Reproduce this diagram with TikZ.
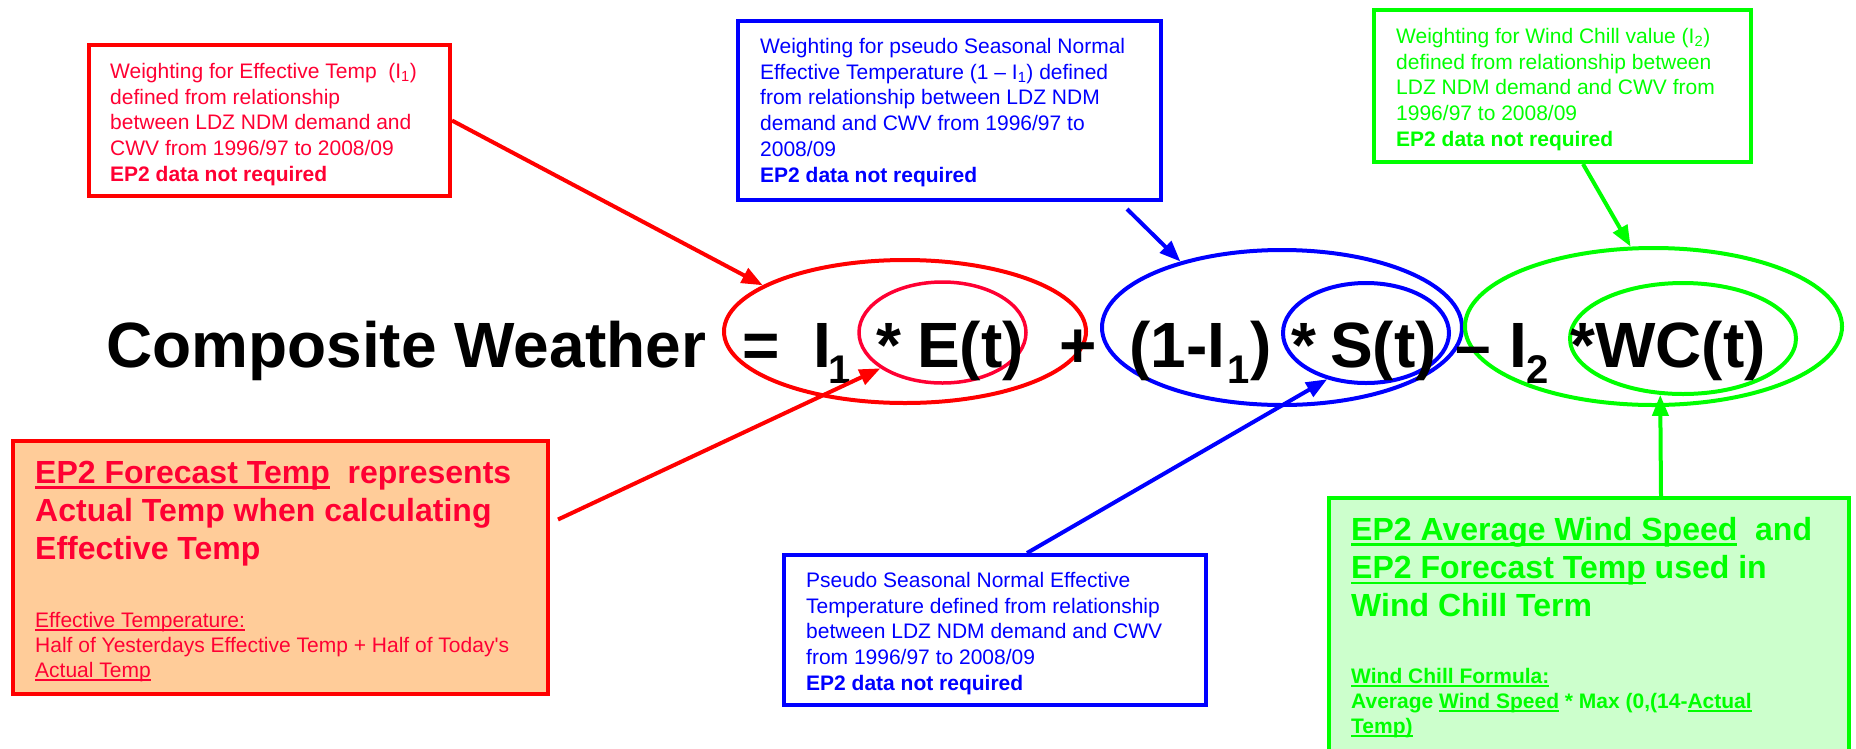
\documentclass[tikz,border=0pt]{standalone}
\usepackage{fontspec}
\setmainfont{Liberation Sans}
\usetikzlibrary{arrows.meta,shapes.geometric}
\definecolor{cRed}{RGB}{255,0,0}
\definecolor{cCrim}{RGB}{255,0,51}
\definecolor{cBlue}{RGB}{0,0,255}
\definecolor{cGreen}{RGB}{0,255,0}
\definecolor{cPeach}{RGB}{255,204,153}
\definecolor{cMint}{RGB}{204,255,204}
\newcommand\myul[1]{\setbox0=\hbox{#1}\rlap{\rule[-0.17em]{\wd0}{0.07em}}\box0\relax}
\newcommand\topst[1]{\rule{0pt}{#1}}
\tikzset{
  box/.style={draw, line width=4pt, rectangle, inner sep=0pt},
  txt/.style={inner sep=0pt, anchor=north west, align=left},
  small/.style={font=\fontsize{21}{25.8}\selectfont},
  smallb/.style={font=\fontsize{21}{25}\selectfont\bfseries},
  big/.style={font=\fontsize{32}{38.3}\selectfont\bfseries},
  eq/.style={inner sep=0pt, anchor=base west, font=\fontsize{64}{64}\selectfont\bfseries},
  eqsub/.style={inner sep=0pt, anchor=base west, font=\fontsize{40}{40}\selectfont\bfseries},
  ring/.style={draw, ellipse, line width=4pt, inner sep=0pt},
  conn/.style={line width=4pt, -{Triangle[length=21pt,width=16pt]}},
  plainline/.style={line width=4pt}
}
\begin{document}
\begin{tikzpicture}[x=1pt,y=-1pt]
\useasboundingbox (0,0) rectangle (1856,748);
\clip (0,0) rectangle (1856,748);
\fill[white] (0,0) rectangle (1856,748);

% boxes
\node[box, draw=cRed, fill=white, minimum width=361pt, minimum height=151pt] (b1) at (269.5,120.5) {};
\node[box, draw=cBlue, fill=white, minimum width=423pt, minimum height=179pt] (b2) at (949.5,110.5) {};
\node[box, draw=cGreen, fill=white, minimum width=377pt, minimum height=152pt] (b3) at (1562.5,86) {};
\node[box, draw=cRed, fill=cPeach, minimum width=535pt, minimum height=253pt] (b4) at (280.5,567.5) {};
\node[box, draw=cBlue, fill=white, minimum width=422pt, minimum height=150pt] (b5) at (995,630) {};
\node[box, draw=cGreen, fill=cMint, minimum width=520pt, minimum height=282pt] (b6) at (1589,639) {};

% box texts
\node[txt, small, text=cCrim] (t1) at (110,58) {\topst{20pt}Weighting for Effective Temp\ \ (I\textsubscript{1})\\ defined from relationship\\ between LDZ NDM demand and\\ CWV from 1996/97 to 2008/09\\ \textbf{EP2 data not required}};
\node[txt, small, text=cBlue] (t2) at (760,33) {\topst{20pt}Weighting for pseudo Seasonal Normal\\ Effective Temperature (1 \textendash{} I\textsubscript{1}) defined\\ from relationship between LDZ NDM\\ demand and CWV from 1996/97 to\\ 2008/09\\ \textbf{EP2 data not required}};
\node[txt, small, text=cGreen] (t3) at (1396,23) {\topst{20pt}Weighting for Wind Chill value (I\textsubscript{2})\\ defined from relationship between\\ LDZ NDM demand and CWV from\\ 1996/97 to 2008/09\\ \textbf{EP2 data not required}};
\node[txt, small, text=cBlue] (t5) at (806,567) {\topst{20pt}Pseudo Seasonal Normal Effective\\ Temperature defined from relationship\\ between LDZ NDM demand and CWV\\ from 1996/97 to 2008/09\\ \textbf{EP2 data not required}};
\node[txt, big, text=cCrim] (t4a) at (35,453) {\topst{30pt}\myul{EP2 Forecast Temp}\ \ represents\\ Actual Temp when calculating\\ Effective Temp};
\node[txt, font=\fontsize{21}{25}\selectfont, text=cCrim] (t4b) at (35,607) {\topst{20pt}\myul{Effective Temperature:}\\ Half of Yesterdays Effective Temp + Half of Today\textquotesingle s\\ \myul{Actual Temp}};
\node[txt, big, text=cGreen] (t6a) at (1351,510) {\topst{30pt}\myul{EP2 Average Wind Speed}\ \ and\\ \myul{EP2 Forecast Temp} used in\\ Wind Chill Term};
\node[txt, smallb, text=cGreen] (t6b) at (1351,663) {\topst{20pt}\myul{Wind Chill Formula:}\\ Average \myul{Wind Speed} * Max (0,(14-\myul{Actual}\\ \myul{Temp)}};

% ellipses
\node[ring, draw=cRed, minimum width=362pt, minimum height=143pt] (eRO) at (905,331.5) {};
\node[ring, draw=cCrim, line width=3.5pt, minimum width=167pt, minimum height=101pt] (eRI) at (942.5,332.5) {};
\node[ring, draw=cBlue, minimum width=360pt, minimum height=155pt] (eBO) at (1282,327.5) {};
\node[ring, draw=cBlue, minimum width=166pt, minimum height=100pt] (eBI) at (1366,333) {};
\node[ring, draw=cGreen, minimum width=377pt, minimum height=157pt] (eGO) at (1653.5,326.5) {};
\node[ring, draw=cGreen, minimum width=226pt, minimum height=111pt] (eGI) at (1683,338.5) {};

% equation
\node[eq] (qA) at (106,367) {Composite Weather};
\node[eq] (qEq) at (742,367) {=};
\node[eq] (qI1) at (813,367) {I};
\node[eqsub] (qI1s) at (828,383) {1};
\node[eq] (qS1) at (876,367) {*};
\node[eq] (qE) at (917,367) {E(t)};
\node[eq] (qPlus) at (1059.5,367) {+};
\node[eq] (qOne) at (1129,367) {(1-I};
\node[eqsub] (qOnes) at (1227,383) {1};
\node[eq] (qCl) at (1250,367) {)};
\node[eq] (qS2) at (1291,367) {*};
\node[eq] (qS) at (1330,367) {S(t)};
\node[eq] (qMin) at (1455,367) {\textendash};
\node[eq] (qI2) at (1509,367) {I};
\node[eqsub] (qI2s) at (1526,383) {2};
\node[eq] (qWC) at (1570,367) {*WC(t)};

% connectors
\draw[conn, draw=cRed, fill=cRed] (b1.east) -- (eRO.162);
\draw[conn, draw=cRed, fill=cRed] ([xshift=8pt,yshift=48pt]b4.east) -- (eRI.210);
\draw[conn, draw=cBlue, fill=cBlue] ([xshift=-36pt,yshift=-7pt]b2.south east) -- (eBO.147);
\draw[conn, draw=cGreen, fill=cGreen] ([xshift=20.5pt]b3.south) -- (eGO.106);
\draw[conn, draw=cGreen, fill=cGreen] ([xshift=72pt]b6.north) -- (eGI.248);
\draw[conn, draw=cBlue, fill=cBlue] ([xshift=32pt]b5.north) -- (eBI.230);
\end{tikzpicture}
\end{document}
